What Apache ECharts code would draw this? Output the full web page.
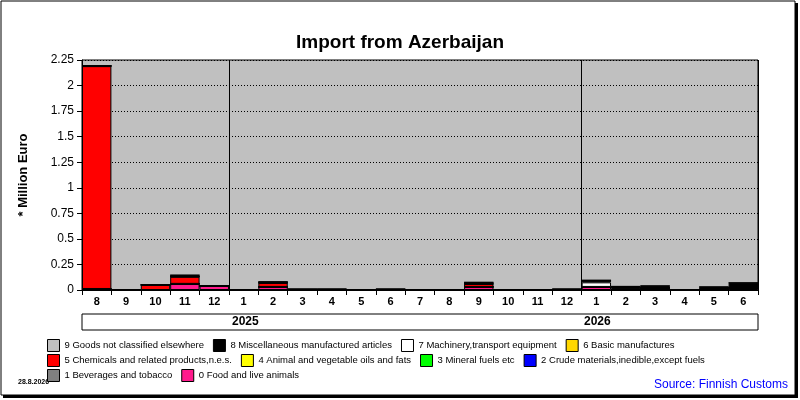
<!DOCTYPE html>
<html><head><meta charset="utf-8">
<script src="https://cdn.jsdelivr.net/npm/echarts@6/dist/echarts.min.js"></script>
<style>html,body{margin:0;padding:0;background:#fff}#c{width:800px;height:400px}</style>
</head><body><div id="c"></div>
<script>
const months = ['8','9','10','11','12','1','2','3','4','5','6','7','8','9','10','11','12','1','2','3','4','5','6'];
const seriesNames = ['0 Food and live animals','1 Beverages and tobacco','2 Crude materials,inedible,except fuels','3 Mineral fuels etc','4 Animal and vegetable oils and fats','5 Chemicals and related products,n.e.s.','6 Basic manufactures','7 Machinery,transport equipment','8 Miscellaneous manufactured articles','9 Goods not classified elsewhere'];
const colors = ['#ff1a8c','#808080','#0000ff','#00ff00','#ffff00','#ff0000','#ffd700','#ffffff','#000000','#c0c0c0'];
const food  = [0.01,0,0,0.06,0.04,0,0.03,0,0,0,0,0,0,0.03,0,0,0,0.03,0,0.02,0,0,0.02];
const chem  = [2.18,0,0.05,0.07,0,0,0.04,0,0,0,0,0,0,0.03,0,0,0,0,0,0,0,0,0];
const mach  = [0,0,0,0,0,0,0,0,0,0,0,0,0,0,0,0,0,0.045,0.01,0,0,0,0];
const misc  = [0.005,0,0,0.015,0,0,0.01,0.01,0.01,0,0.01,0,0,0.015,0,0,0.01,0.02,0.025,0.02,0,0.03,0.05];
const zero = months.map(()=>0);
const values = [food,zero,zero,zero,zero,chem,zero,mach,misc,zero];
const yearLabels = ['2025','2026'];

const chart = echarts.init(document.getElementById('c'));
const legendItem = n => ({name:n, itemStyle:{color:colors[seriesNames.indexOf(n)], borderColor:'#000', borderWidth:1}});
const legendBase = {icon:'rect', itemWidth:12, itemHeight:12, itemGap:9, textStyle:{fontSize:9.5, color:'#000', fontFamily:'Liberation Sans'}, selectedMode:false, left:42};
chart.setOption({
  animation:false,
  backgroundColor:'#fff',
  title:{text:'Import from Azerbaijan', left:'center', top:28, textStyle:{fontSize:19, fontWeight:'bold', color:'#000', fontFamily:'Liberation Sans'}},
  grid:{left:82, right:42, top:60, bottom:110, show:true, backgroundColor:'#c0c0c0', borderColor:'#000', borderWidth:1},
  xAxis:{type:'category', data:months, boundaryGap:true,
    axisLine:{lineStyle:{color:'#000'}}, axisTick:{show:true, alignWithLabel:false, lineStyle:{color:'#000'}},
    axisLabel:{color:'#000', fontSize:11, fontWeight:'bold', fontFamily:'Liberation Sans', interval:0, margin:6},
    splitLine:{show:true, interval:(i)=>i===5||i===17, lineStyle:{color:'#000', width:1}}},
  yAxis:{type:'value', min:0, max:2.25, interval:0.25, name:'* Million Euro', nameLocation:'middle', nameGap:52,
    nameTextStyle:{fontSize:13, fontWeight:'bold', color:'#000', fontFamily:'Liberation Sans'},
    axisLine:{show:true, lineStyle:{color:'#000'}}, axisTick:{show:true, lineStyle:{color:'#000'}},
    axisLabel:{color:'#000', fontSize:12, fontFamily:'Liberation Sans', formatter:v=>String(+v.toFixed(2))},
    splitLine:{lineStyle:{color:'#000', type:[1,2], width:1}}},
  legend:[
    Object.assign({}, legendBase, {top:334, data:['9 Goods not classified elsewhere','8 Miscellaneous manufactured articles','7 Machinery,transport equipment','6 Basic manufactures'].map(legendItem)}),
    Object.assign({}, legendBase, {top:349, data:['5 Chemicals and related products,n.e.s.','4 Animal and vegetable oils and fats','3 Mineral fuels etc','2 Crude materials,inedible,except fuels'].map(legendItem)}),
    Object.assign({}, legendBase, {top:364, data:['1 Beverages and tobacco','0 Food and live animals'].map(legendItem)})
  ],
  series: seriesNames.map((n,i)=>({name:n, type:'bar', stack:'t', data:values[i], barCategoryGap:'0%',
    itemStyle:{color:colors[i], borderColor:'#000', borderWidth:1}})),
  graphic:[
    {type:'rect', shape:{x:1,y:1,width:794,height:394}, style:{fill:'none', stroke:'#000', lineWidth:1}, z:-1},
    {type:'rect', shape:{x:3,y:395,width:795,height:3}, style:{fill:'#000'}},
    {type:'rect', shape:{x:795,y:3,width:3,height:395}, style:{fill:'#000'}},
    {type:'rect', shape:{x:82,y:314,width:676,height:16}, style:{fill:'#fff', stroke:'#000', lineWidth:1}},
    {type:'text', x:232, y:316, style:{text:yearLabels[0], fontSize:12, fontWeight:'bold', fill:'#000', fontFamily:'Liberation Sans'}},
    {type:'text', x:584, y:316, style:{text:yearLabels[1], fontSize:12, fontWeight:'bold', fill:'#000', fontFamily:'Liberation Sans'}},
    {type:'text', x:18, y:379, style:{text:'28.8.2026', fontSize:7, fontWeight:'bold', fill:'#000', fontFamily:'Liberation Sans'}},
    {type:'text', right:12, y:379, style:{text:'Source: Finnish Customs', fontSize:12, fill:'#0000ff', fontFamily:'Liberation Sans'}}
  ]
});
</script></body></html>
